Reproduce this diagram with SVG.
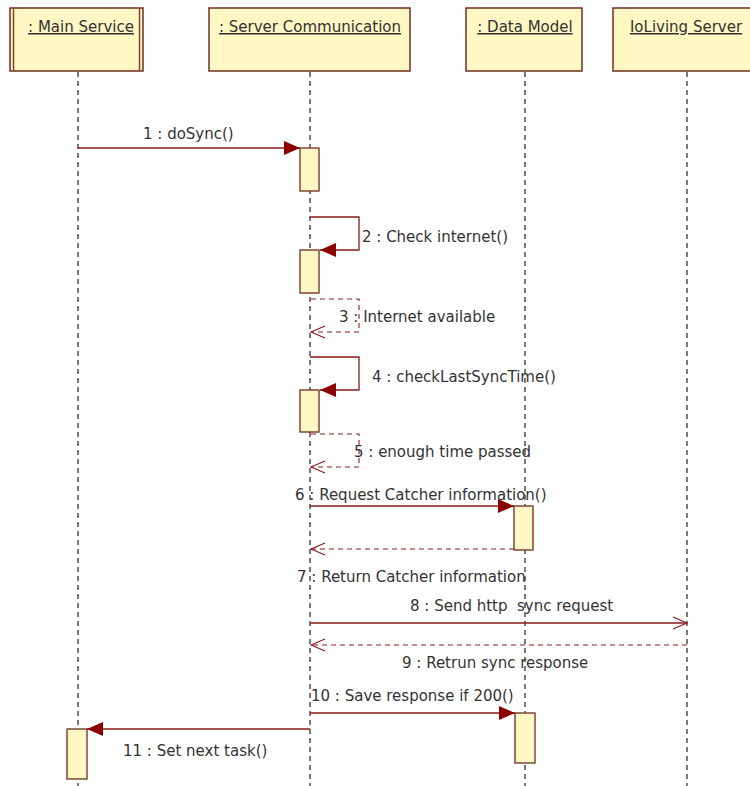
<svg xmlns="http://www.w3.org/2000/svg" width="750" height="786" viewBox="0 0 750 786">
<style>
.box{fill:#FFF8C4;stroke:#7A3A2E;stroke-width:1.6}
.act{fill:#FFF8C4;stroke:#7A3A2E;stroke-width:1.4}
.life{stroke:#222;stroke-width:1.2;stroke-dasharray:5,4;fill:none}
.msg{stroke:#8A1A1A;stroke-width:1.3;fill:none}
.ret{stroke:#8A1A1A;stroke-width:1.1;stroke-dasharray:5,4;fill:none}
.lbl{font-family:"DejaVu Sans",sans-serif;font-size:15px;fill:#333;white-space:pre}
</style>
<defs>
<marker id="filled" markerWidth="18" markerHeight="16" refX="16" refY="7" orient="auto" markerUnits="userSpaceOnUse">
<path d="M0,0 L16,7 L0,14 z" fill="#8B0000"/>
</marker>
<marker id="open" markerWidth="18" markerHeight="16" refX="15" refY="7" orient="auto" markerUnits="userSpaceOnUse">
<path d="M1,1 L15,7 L1,13" fill="none" stroke="#8A1A1A" stroke-width="1.1"/>
</marker>
</defs>
<rect width="750" height="786" fill="#fff"/>

<g id="lifelines">
<line class="life" x1="78" y1="72" x2="78" y2="786"/>
<line class="life" x1="310" y1="72" x2="310" y2="786"/>
<line class="life" x1="525" y1="72" x2="525" y2="786"/>
<line class="life" x1="687" y1="72" x2="687" y2="786"/>
</g>

<g id="main-service">
<rect class="box" x="10" y="8" width="133" height="63"/>
<line x1="13.5" y1="8" x2="13.5" y2="71" stroke="#7A3A2E" stroke-width="1.4"/>
<line x1="139.5" y1="8" x2="139.5" y2="71" stroke="#7A3A2E" stroke-width="1.4"/>
<text class="lbl" x="81" y="32" text-anchor="middle" text-decoration="underline">: Main Service</text>
</g>

<g id="server-communication">
<rect class="box" x="209" y="8" width="201" height="63"/>
<text class="lbl" x="310" y="32" text-anchor="middle" text-decoration="underline">: Server Communication</text>
</g>

<g id="data-model">
<rect class="box" x="466" y="8" width="116" height="63"/>
<text class="lbl" x="525" y="32" text-anchor="middle" text-decoration="underline">: Data Model</text>
</g>

<g id="ioliving-server">
<rect class="box" x="613" y="8" width="150" height="63"/>
<text class="lbl" x="686" y="32" text-anchor="middle" text-decoration="underline">IoLiving Server</text>
</g>

<g id="activations">
<rect class="act" x="300" y="148" width="19" height="43"/>
<rect class="act" x="300" y="250" width="19" height="43"/>
<rect class="act" x="300" y="390" width="19" height="42"/>
<rect class="act" x="514" y="506" width="19" height="44"/>
<rect class="act" x="515" y="713" width="20" height="50"/>
<rect class="act" x="67" y="729" width="20" height="50"/>
</g>

<g id="connectors">
<line class="msg" x1="78" y1="148" x2="300" y2="148" marker-end="url(#filled)"/>
<polyline class="msg" points="310,217 359,217 359,250 320,250" marker-end="url(#filled)"/>
<polyline class="ret" points="311,299 359,299 359,332 311,332" marker-end="url(#open)"/>
<polyline class="msg" points="310,357 359,357 359,390 320,390" marker-end="url(#filled)"/>
<polyline class="ret" points="311,434 359,434 359,467 311,467" marker-end="url(#open)"/>
<line class="msg" x1="310" y1="506" x2="514" y2="506" marker-end="url(#filled)"/>
<line class="ret" x1="514" y1="549" x2="311" y2="549" marker-end="url(#open)"/>
<line class="msg" x1="310" y1="623" x2="687" y2="623" marker-end="url(#open)"/>
<line class="ret" x1="687" y1="645" x2="311" y2="645" marker-end="url(#open)"/>
<line class="msg" x1="310" y1="713" x2="515" y2="713" marker-end="url(#filled)"/>
<line class="msg" x1="310" y1="729" x2="87" y2="729" marker-end="url(#filled)"/>
</g>

<g id="labels">
<text class="lbl" x="143" y="139">1 : doSync()</text>
<text class="lbl" x="362" y="242">2 : Check internet()</text>
<text class="lbl" x="339" y="322">3 : Internet available</text>
<text class="lbl" x="372" y="382">4 : checkLastSyncTime()</text>
<text class="lbl" x="354" y="457">5 : enough time passed</text>
<text class="lbl" x="295" y="500">6 : Request Catcher information()</text>
<text class="lbl" x="297" y="582">7 : Return Catcher information</text>
<text class="lbl" x="410" y="611" xml:space="preserve">8 : Send http  sync request</text>
<text class="lbl" x="402" y="668">9 : Retrun sync response</text>
<text class="lbl" x="311" y="701">10 : Save response if 200()</text>
<text class="lbl" x="123" y="756">11 : Set next task()</text>
</g>
</svg>
